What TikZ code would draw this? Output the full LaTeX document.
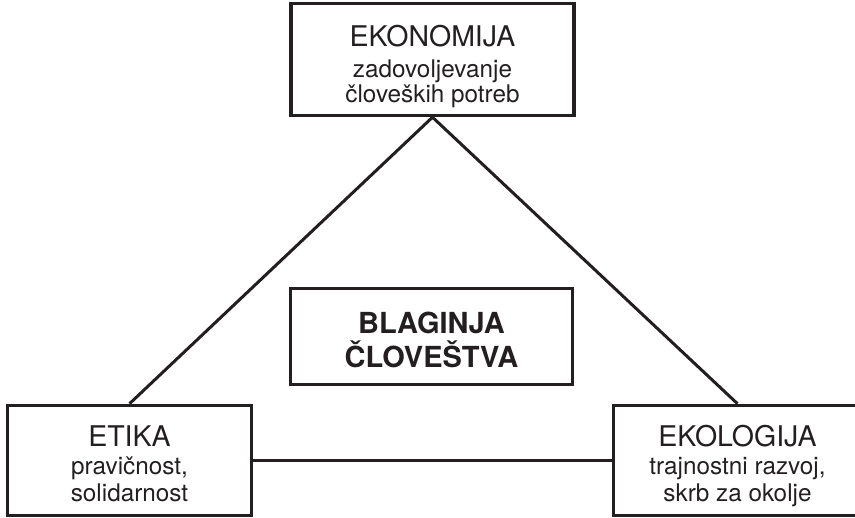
\documentclass[tikz,border=0pt]{standalone}
\usepackage{fontspec}
\setmainfont{TeX Gyre Heros}
\definecolor{ink}{RGB}{35,31,32}
\begin{document}
\begin{tikzpicture}[x=1pt,y=1pt,
  box/.style={draw=ink, line width=3.5pt, rectangle, inner sep=0pt},
  link/.style={draw=ink, line width=3pt},
  ttl/.style={anchor=base, text=ink, inner sep=0pt, font=\fontsize{28.5}{34}\selectfont},
  sub/.style={anchor=base, text=ink, inner sep=0pt, font=\fontsize{24.3}{28}\selectfont},
  bld/.style={anchor=base, text=ink, inner sep=0pt, font=\bfseries\fontsize{29}{34}\selectfont}]
\useasboundingbox (0,0) rectangle (855,518);
% boxes
\node[box, minimum width=283pt, minimum height=112pt] (eko) at (432.5,458.5) {};
\node[box, minimum width=282pt, minimum height=96pt] (bla) at (431.5,181.5) {};
\node[box, minimum width=244pt, minimum height=110pt] (eti) at (129.5,57.5) {};
\node[box, minimum width=248pt, minimum height=110pt] (ekl) at (737.5,57.5) {};
% texts
\node[ttl] (ekoA) at (432.5,471.3) {EKONOMIJA};
\node[sub] (ekoB) at (432.5,440.3) {zadovoljevanje};
\node[sub] (ekoC) at (432.5,415) {človeških potreb};
\node[bld] (blaA) at (431.5,184) {BLAGINJA};
\node[bld] (blaB) at (431.5,150) {ČLOVEŠTVA};
\node[ttl] (etiA) at (129.5,71.3) {ETIKA};
\node[sub] (etiB) at (129.5,43) {pravičnost,};
\node[sub] (etiC) at (129.5,16.3) {solidarnost};
\node[ttl] (eklA) at (737.5,71.3) {EKOLOGIJA};
\node[sub] (eklB) at (737.5,43) {trajnostni razvoj,};
\node[sub] (eklC) at (737.5,16.3) {skrb za okolje};
% connectors
\draw[link] (eko.south) -- (eti.north);
\draw[link] (eko.south) -- (ekl.north);
\draw[link] (eti.east) -- (ekl.west);
\end{tikzpicture}
\end{document}
